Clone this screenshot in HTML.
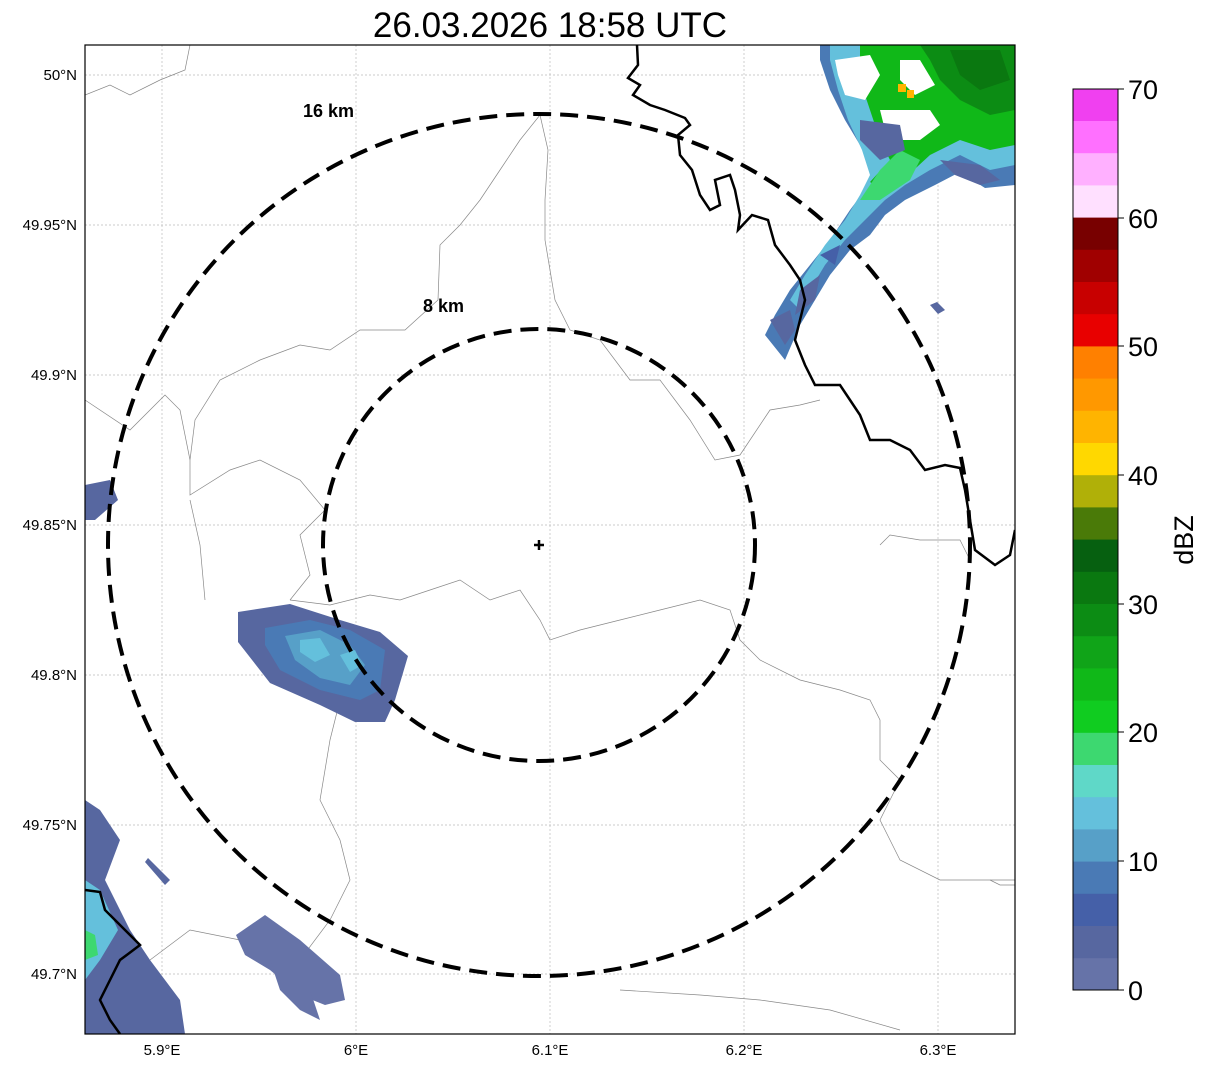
<!DOCTYPE html>
<html><head><meta charset="utf-8"><style>
body{margin:0;background:#fff;}
svg{display:block;font-family:"Liberation Sans",sans-serif;}
</style></head><body>
<svg width="1207" height="1069" viewBox="0 0 1207 1069" xmlns="http://www.w3.org/2000/svg">
<rect width="1207" height="1069" fill="#fff"/>
<text x="550" y="37" font-size="35" text-anchor="middle">26.03.2026 18:58 UTC</text>
<defs><clipPath id="c"><rect x="85" y="45" width="930" height="989"/></clipPath></defs>
<g clip-path="url(#c)">
<g stroke="#bbb" stroke-width="0.7" stroke-dasharray="2,2">
<line x1="85" x2="1015" y1="75" y2="75"/><line x1="85" x2="1015" y1="225" y2="225"/>
<line x1="85" x2="1015" y1="375" y2="375"/><line x1="85" x2="1015" y1="525" y2="525"/>
<line x1="85" x2="1015" y1="675" y2="675"/><line x1="85" x2="1015" y1="825" y2="825"/>
<line x1="85" x2="1015" y1="974" y2="974"/>
<line y1="45" y2="1034" x1="162" x2="162"/><line y1="45" y2="1034" x1="356" x2="356"/>
<line y1="45" y2="1034" x1="550" x2="550"/><line y1="45" y2="1034" x1="744" x2="744"/>
<line y1="45" y2="1034" x1="938" x2="938"/>
</g>
<g fill="none" stroke="#888" stroke-width="0.7">
<path d="M85,95 L110,85 130,95 160,80 185,70 190,45"/>
<path d="M540,115 L520,140 500,170 480,200 460,225 440,245 438,300 405,330 360,330 330,350 300,345 260,360 220,380 195,420 190,460 180,410 165,395 130,430 85,400"/>
<path d="M540,115 L548,150 545,200 545,240 555,300 570,330 600,340 630,380 660,380 690,420 715,460 740,455 770,410 800,405 820,400"/>
<path d="M190,460 L190,495 230,470 260,460 300,480 325,510 300,535 310,575 290,600"/>
<path d="M290,600 L330,605 370,595 400,600 430,590 460,580 490,600 520,590 540,620 550,640 580,630 620,620 660,610 700,600 730,610 740,640 760,660 800,680 840,690 870,700 880,720 880,760 900,780 880,820 900,860 940,880 980,880 1015,880"/>
<path d="M330,620 L340,700 330,740 320,800 340,840 350,880 330,920 300,960 240,940 190,930 150,960"/>
<path d="M880,545 L890,535 920,540 960,540 970,560"/>
<path d="M990,880 L1000,885 1015,885"/>
<path d="M620,990 L700,995 760,1000 830,1010 900,1030"/>
<path d="M190,500 L200,545 205,600"/>
</g>
<!-- radar NE -->
<g>
<polygon points="820,45 1015,45 1015,185 985,188 960,172 935,185 905,200 885,215 870,235 850,250 830,275 815,300 800,325 785,360 765,335 775,315 790,290 810,265 830,240 850,210 865,190 875,170 860,145 845,120 830,90 820,60" fill="#4a7ab5"/>
<polygon points="830,45 1015,45 1015,165 990,170 960,155 930,170 905,185 885,200 865,220 845,240 825,265 810,290 800,310 790,300 805,275 825,245 845,220 860,195 870,175 862,150 848,120 838,90 830,60" fill="#64c0dc"/>
<polygon points="800,290 820,275 815,300 795,315" fill="#5767a0"/>
<polygon points="770,320 790,310 795,330 785,345" fill="#5767a0"/>
<polygon points="820,255 840,245 835,265" fill="#4560a8"/>
<polygon points="860,45 1015,45 1015,145 990,150 960,140 930,155 905,178 885,192 870,182 890,160 880,140 870,110 860,80" fill="#10b818"/>
<polygon points="920,45 1015,45 1015,110 990,115 960,100 940,80 930,60" fill="#0c8c14"/>
<polygon points="950,50 1000,50 1010,80 980,90 960,75" fill="#0a7810"/>
<polygon points="880,200 910,180 920,160 900,150 880,170 860,200" fill="#3dd870"/>
<polygon points="835,60 870,55 880,75 865,100 845,95 838,75" fill="#fff"/>
<polygon points="880,110 930,110 940,125 920,140 900,140 885,130" fill="#fff"/>
<polygon points="900,60 920,60 935,85 915,95 900,80" fill="#fff"/>
<polygon points="860,120 900,125 905,150 880,160 860,140" fill="#5767a0"/>
<polygon points="940,160 980,165 1000,180 980,185 955,175" fill="#5767a0"/>
<rect x="898" y="84" width="8" height="8" fill="#ffb400"/>
<rect x="907" y="90" width="7" height="8" fill="#ffb400"/>
<polygon points="930,305 937,302 945,310 938,314" fill="#5767a0"/>
</g>
<!-- radar SW blob -->
<polygon points="238,612 290,604 340,620 380,632 408,656 395,700 385,722 355,722 320,705 270,683 238,642" fill="#5767a0"/>
<polygon points="265,628 310,620 350,630 385,650 380,690 360,700 320,690 280,670 265,645" fill="#4a7ab5"/>
<polygon points="285,636 320,630 350,645 365,665 350,685 320,678 295,660" fill="#57a0c8"/>
<polygon points="300,640 320,638 330,655 315,662 300,652" fill="#64c0dc"/>
<polygon points="340,655 355,650 362,665 350,672" fill="#64c0dc"/>
<polygon points="85,485 110,480 118,500 95,520 85,520" fill="#5767a0"/>
<polygon points="85,800 100,810 120,840 105,880 130,930 150,960 180,1000 185,1034 85,1034" fill="#5767a0"/>
<polygon points="85,880 100,890 118,930 100,960 85,980" fill="#64c0dc"/>
<polygon points="85,930 95,935 98,955 85,960" fill="#3dd870"/>
<polygon points="148,858 170,880 165,885 145,862" fill="#5767a0"/>
<polygon points="236,935 265,915 300,940 340,975 345,1000 325,1005 300,995 270,970 245,955" fill="#6673a8"/>
<polygon points="270,960 310,990 320,1020 300,1010 280,990" fill="#6673a8"/>
<g fill="none" stroke="#000" stroke-width="2.5">
<path d="M637,45 L638,65 628,78 640,85 633,95 650,105 665,110 685,118 690,125 678,135 680,155 692,170 700,195 710,210 720,205 715,180 730,175 735,190 740,215 738,230 752,215 768,220 775,245 790,265 800,280 805,300 800,320 795,340 805,365 815,385 840,385 850,400 860,415 870,440 890,440 910,450 925,470 945,465 960,468 965,490 970,520 975,550 995,565 1010,555 1015,530"/>
<path d="M85,890 L100,892 105,910 125,930 140,945 120,960 110,980 100,1000 110,1020 120,1034"/>
</g>
<g fill="none" stroke="#000" stroke-width="4" stroke-dasharray="18,9">
<ellipse cx="539" cy="545" rx="216" ry="216"/>
<ellipse cx="539" cy="545" rx="431" ry="431"/>
</g>
<path d="M539,540 V550 M534,545 H544" stroke="#000" stroke-width="2.5"/>
<text x="303" y="117" font-size="18" font-weight="bold">16 km</text>
<text x="423" y="312" font-size="18" font-weight="bold">8 km</text>
</g>
<rect x="85" y="45" width="930" height="989" fill="none" stroke="#000" stroke-width="1.2"/>
<g font-size="15" text-anchor="end">
<text x="77" y="80">50°N</text><text x="77" y="230">49.95°N</text><text x="77" y="380">49.9°N</text>
<text x="77" y="530">49.85°N</text><text x="77" y="680">49.8°N</text><text x="77" y="830">49.75°N</text>
<text x="77" y="979">49.7°N</text>
</g>
<g font-size="15" text-anchor="middle">
<text x="162" y="1055">5.9°E</text><text x="356" y="1055">6°E</text><text x="550" y="1055">6.1°E</text>
<text x="744" y="1055">6.2°E</text><text x="938" y="1055">6.3°E</text>
</g>
<g>
<rect x="1073" y="957.8" width="45" height="32.6" fill="#6673a8"/>
<rect x="1073" y="925.6" width="45" height="32.6" fill="#5767a0"/>
<rect x="1073" y="893.4" width="45" height="32.6" fill="#4560a8"/>
<rect x="1073" y="861.2" width="45" height="32.6" fill="#4a7ab5"/>
<rect x="1073" y="829.0" width="45" height="32.6" fill="#57a0c8"/>
<rect x="1073" y="796.8" width="45" height="32.6" fill="#64c0dc"/>
<rect x="1073" y="764.6" width="45" height="32.6" fill="#5fd8c8"/>
<rect x="1073" y="732.4" width="45" height="32.6" fill="#3dd870"/>
<rect x="1073" y="700.2" width="45" height="32.6" fill="#10cc20"/>
<rect x="1073" y="668.0" width="45" height="32.6" fill="#10b818"/>
<rect x="1073" y="635.8" width="45" height="32.6" fill="#10a418"/>
<rect x="1073" y="603.6" width="45" height="32.6" fill="#0c8c14"/>
<rect x="1073" y="571.4" width="45" height="32.6" fill="#0a7810"/>
<rect x="1073" y="539.2" width="45" height="32.6" fill="#066010"/>
<rect x="1073" y="507.0" width="45" height="32.6" fill="#4a7a08"/>
<rect x="1073" y="474.8" width="45" height="32.6" fill="#b0b008"/>
<rect x="1073" y="442.6" width="45" height="32.6" fill="#ffd800"/>
<rect x="1073" y="410.4" width="45" height="32.6" fill="#ffb400"/>
<rect x="1073" y="378.2" width="45" height="32.6" fill="#ff9800"/>
<rect x="1073" y="346.0" width="45" height="32.6" fill="#ff8000"/>
<rect x="1073" y="313.8" width="45" height="32.6" fill="#e80000"/>
<rect x="1073" y="281.6" width="45" height="32.6" fill="#c80000"/>
<rect x="1073" y="249.4" width="45" height="32.6" fill="#a00000"/>
<rect x="1073" y="217.2" width="45" height="32.6" fill="#780000"/>
<rect x="1073" y="185.0" width="45" height="32.6" fill="#ffe0ff"/>
<rect x="1073" y="152.8" width="45" height="32.6" fill="#ffb0ff"/>
<rect x="1073" y="120.6" width="45" height="32.6" fill="#ff70ff"/>
<rect x="1073" y="89" width="45" height="32" fill="#f040f0"/>
<rect x="1073" y="89" width="45" height="901" fill="none" stroke="#000" stroke-width="1"/>
<g stroke="#000" stroke-width="1">
<line x1="1118" x2="1124" y1="990" y2="990"/><line x1="1118" x2="1124" y1="861" y2="861"/>
<line x1="1118" x2="1124" y1="732" y2="732"/><line x1="1118" x2="1124" y1="604" y2="604"/>
<line x1="1118" x2="1124" y1="475" y2="475"/><line x1="1118" x2="1124" y1="346" y2="346"/>
<line x1="1118" x2="1124" y1="218" y2="218"/><line x1="1118" x2="1124" y1="89" y2="89"/>
</g>
<g font-size="27">
<text x="1128" y="1000">0</text><text x="1128" y="871">10</text><text x="1128" y="742">20</text>
<text x="1128" y="614">30</text><text x="1128" y="485">40</text><text x="1128" y="356">50</text>
<text x="1128" y="228">60</text><text x="1128" y="99">70</text>
</g>
<text transform="translate(1193,540) rotate(-90)" font-size="27" text-anchor="middle">dBZ</text>
</g>
</svg>
</body></html>
